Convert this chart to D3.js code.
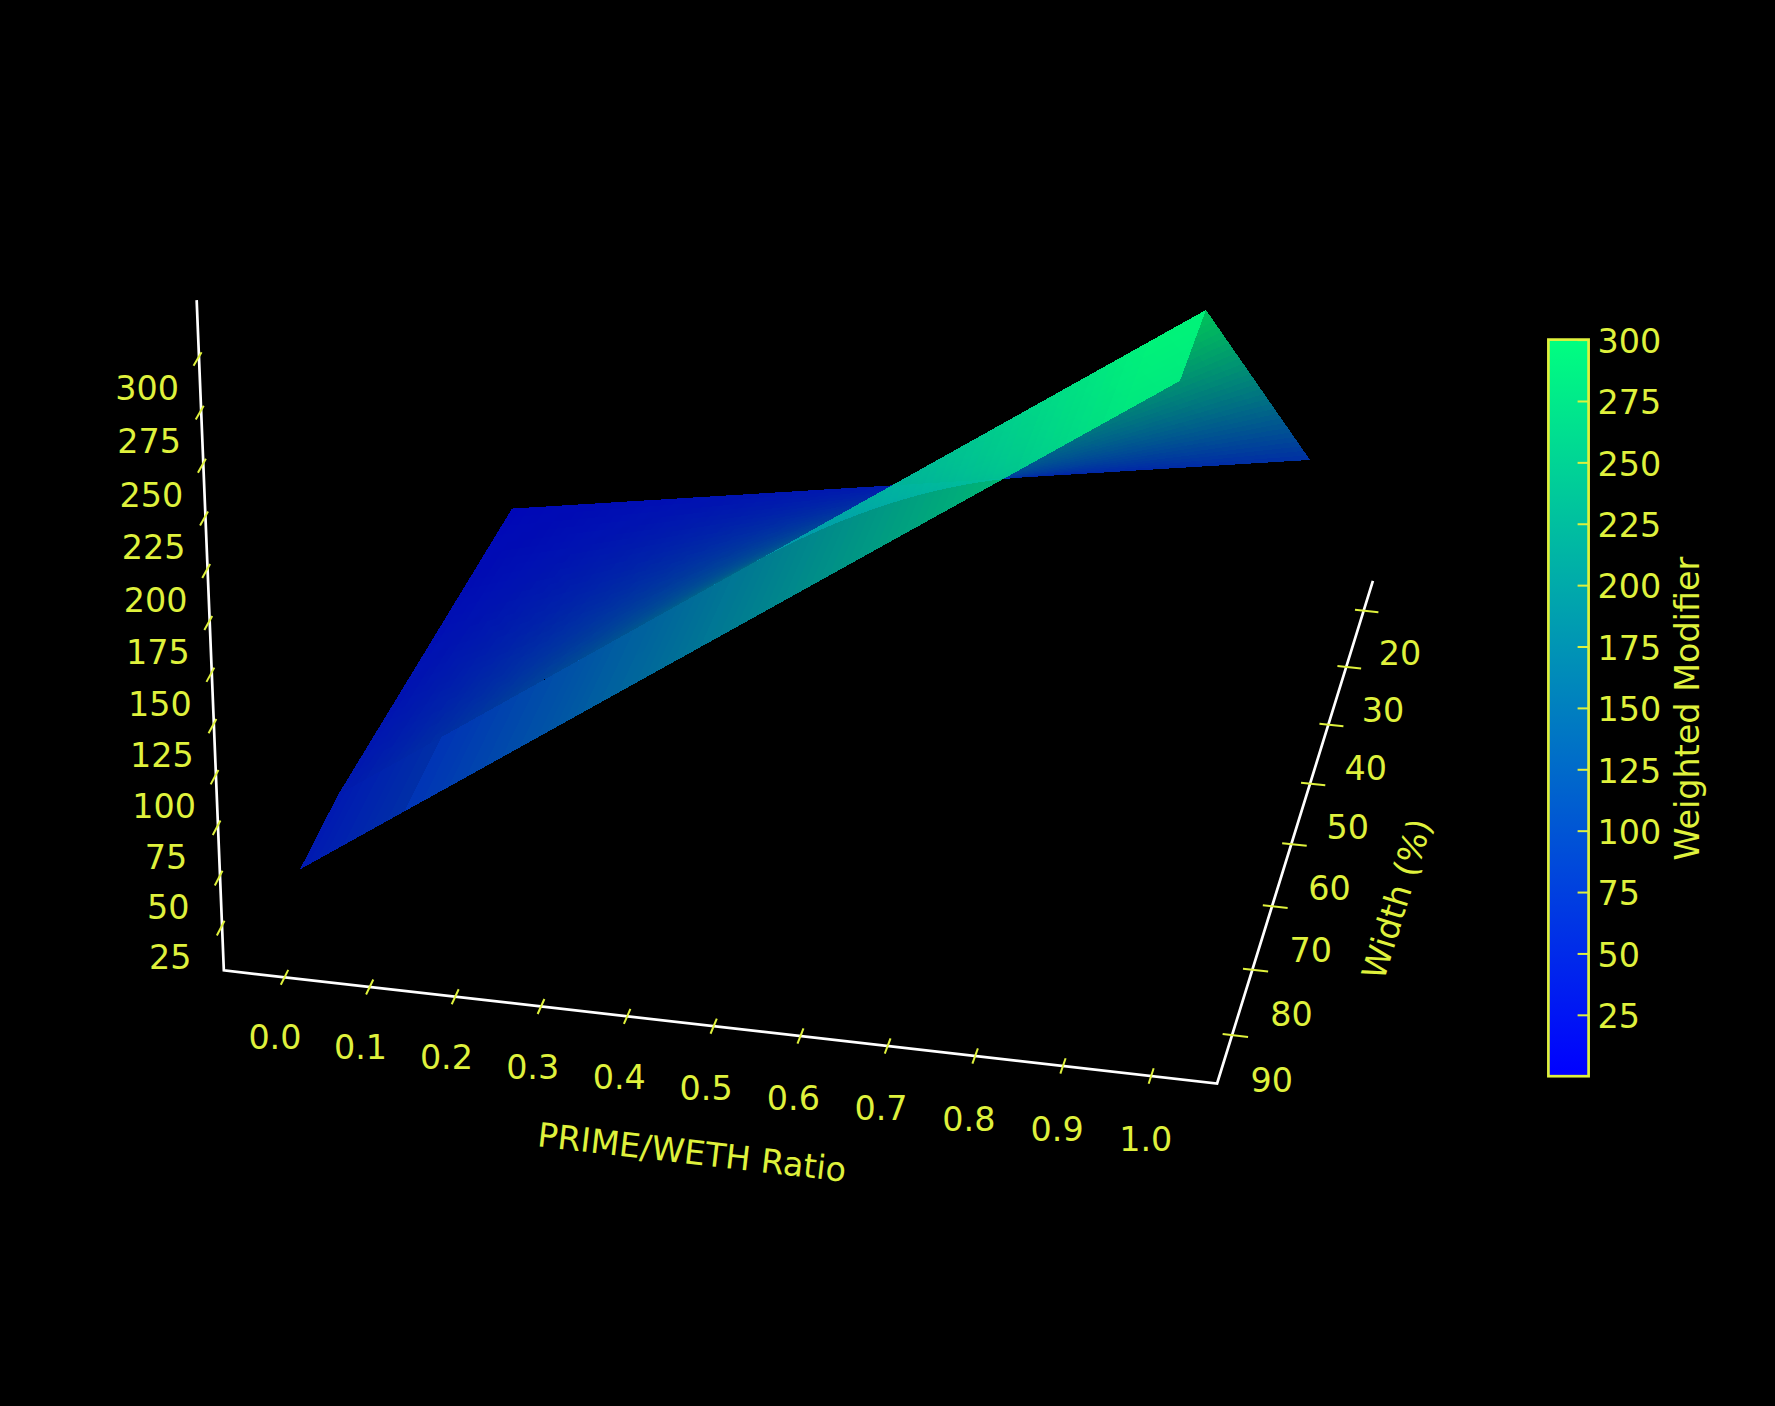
<!DOCTYPE html>
<html><head><meta charset="utf-8"><style>html,body{margin:0;background:#000}svg{display:block}text{font-family:"DejaVu Sans";font-size:33.4px;fill:#dff13c}</style></head>
<body><svg id="c" width="1775" height="1406"></svg>
<script src="https://cdn.jsdelivr.net/npm/d3@7"></script>
<script>
// ---- data ----
const ratioTicks=[0,.1,.2,.3,.4,.5,.6,.7,.8,.9,1];
const widthTicks=[20,30,40,50,60,70,80,90];
const modifierTicks=[25,50,75,100,125,150,175,200,225,250,275,300];
const gridRatio=[0,1];
const widthAtRatio0=[19.93,79.64,91.66];
const widthAtRatio1=[18.89,79.00,90.95];
const modifierAtRatio0=[11.3,40.0,40.1];
const modifierAtRatio1=[76.7,316.9,316.8];
const colorbarDomain=[0,300];
// ---- view ----
const ELEV=.4988,AZIM=-1.3631,DIST=8.398,SCALE=991.15,CX=822.21,CY=449.39;
const XLIM=[-.0732,1.0782],YLIM=[97.2545,14.6179],ZLIM=[3.8172,327.348],BOX=[1,1.0094,.7476];
const AXIS_X=[-.0715,1.0745];
const INK="#dff13c";
const ALPHA=.81,SHADE_BACK=.9,SHADE_FRONT=1,SHADE_FRONT_LEFT=.92,FRONT_LEFT_END=.125;
const sx=d3.scaleLinear().domain(XLIM).range([-BOX[0]/2,BOX[0]/2]);
const sy=d3.scaleLinear().domain(YLIM).range([-BOX[1]/2,BOX[1]/2]);
const sz=d3.scaleLinear().domain(ZLIM).range([-BOX[2]/2,BOX[2]/2]);
const n=[Math.cos(ELEV)*Math.cos(AZIM),Math.cos(ELEV)*Math.sin(AZIM),Math.sin(ELEV)];
const rl=Math.hypot(n[0],n[1]),r=[-n[1]/rl,n[0]/rl,0];
const u=[n[1]*r[2]-n[2]*r[1],n[2]*r[0]-n[0]*r[2],n[0]*r[1]-n[1]*r[0]];
const dot=(a,b)=>a[0]*b[0]+a[1]*b[1]+a[2]*b[2];
const world=(x,y,z)=>[sx(x),sy(y),sz(z)];
const depth=(x,y,z)=>dot(world(x,y,z),n);
function project(x,y,z){const P=world(x,y,z),w=1-dot(P,n)/DIST;return[CX+SCALE*dot(P,r)/w,CY-SCALE*dot(P,u)/w]}
const svg=d3.select("#c");
svg.append("rect").attr("width",1775).attr("height",1406).attr("fill","#000");
const color=d3.scaleLinear().domain(colorbarDomain).range(["#0000ff","#00ff80"]).clamp(true);
// ---- surface: bilinear patches over the grid ----
const quads=[];
const surf=(i,a,b)=>{const wy=d3.scaleLinear().domain(gridRatio).range([d3.interpolateNumber(widthAtRatio0[i],widthAtRatio0[i+1])(b),d3.interpolateNumber(widthAtRatio1[i],widthAtRatio1[i+1])(b)]);
 const wz=d3.scaleLinear().domain(gridRatio).range([d3.interpolateNumber(modifierAtRatio0[i],modifierAtRatio0[i+1])(b),d3.interpolateNumber(modifierAtRatio1[i],modifierAtRatio1[i+1])(b)]);
 return[a,wy(a),wz(a)]};
const shadeFor=(band,a)=>band===0?SHADE_BACK:(a<FRONT_LEFT_END?SHADE_FRONT_LEFT:SHADE_FRONT);
[[0,90,30],[1,96,2]].forEach(([band,nx,ny])=>{
 d3.range(nx).forEach(ix=>d3.range(ny).forEach(iy=>{
  const a0=ix/nx,a1=(ix+1)/nx,b0=iy/ny,b1=(iy+1)/ny;
  const c=[surf(band,a0,b0),surf(band,a1,b0),surf(band,a1,b1),surf(band,a0,b1)];
  const m=[d3.mean(c,d=>d[0]),d3.mean(c,d=>d[1]),d3.mean(c,d=>d[2])];
  quads.push({c,z:m[2],shade:shadeFor(band,m[0]),d:depth(...m)});
 }));
});
quads.sort((p,q)=>p.d-q.d);
svg.append("g").attr("shape-rendering","crispEdges").selectAll("polygon").data(quads).join("polygon")
 .attr("points",q=>q.c.map(p=>project(...p).map(v=>v.toFixed(2)).join(",")).join(" "))
 .attr("fill",q=>{const k=d3.rgb(color(q.z));return d3.rgb(k.r*q.shade,k.g*q.shade,k.b*q.shade).formatRgb()})
 .attr("fill-opacity",ALPHA);
// ---- axis lines ----
const line=d3.line();
const gAxes=svg.append("g");
const axisPath=[[AXIS_X[0],YLIM[0],ZLIM[1]],[AXIS_X[0],YLIM[0],ZLIM[0]],[AXIS_X[1],YLIM[0],ZLIM[0]],[AXIS_X[1],YLIM[1],ZLIM[0]]];
gAxes.append("path").attr("d",line(axisPath.map(p=>project(...p)))).attr("fill","none").attr("stroke","#fff").attr("stroke-width",2.7).attr("stroke-linejoin","miter");
const tick=(a,b,w)=>gAxes.append("line").attr("x1",a[0]).attr("y1",a[1]).attr("x2",b[0]).attr("y2",b[1]).attr("stroke",INK).attr("stroke-width",w);
const label=(p,t)=>svg.append("text").attr("x",p[0]).attr("y",p[1]).attr("text-anchor","middle").attr("dominant-baseline","central").text(t);
const oxX=d3.scaleLinear().domain([0,1]).range([-9.6,-5.4]),oxY=d3.scaleLinear().domain([0,1]).range([60,64]);
ratioTicks.forEach(v=>{const p=project(v,YLIM[0],ZLIM[0]);
 tick(project(v,YLIM[0]-1.15,ZLIM[0]),project(v,YLIM[0]+1.15,ZLIM[0]),2);
 label([p[0]+oxX(v),p[1]+oxY(v)],v.toFixed(1));});
const oyX=d3.scaleLinear().domain([20,90]).range([33.4,36.4]),oyY=d3.scaleLinear().domain([20,90]).range([42.8,44.9]);
widthTicks.forEach(v=>{const p=project(XLIM[1],v,ZLIM[0]);
 tick(project(XLIM[1]-.0145,v,ZLIM[0]),project(XLIM[1]+.0145,v,ZLIM[0]),2);
 label([p[0]+oyX(v),p[1]+oyY(v)],v);});
modifierTicks.forEach(v=>{const p=project(XLIM[0],YLIM[0],v);
 tick(project(XLIM[0],YLIM[0]-1.15,v),project(XLIM[0],YLIM[0]+1.15,v),2);
 label([p[0]-50.5,p[1]+29.3],v);});
svg.append("text").attr("text-anchor","middle").attr("dominant-baseline","central").attr("transform","translate(692,1152.5) rotate(6.6)").text("PRIME/WETH Ratio");
svg.append("text").attr("text-anchor","middle").attr("dominant-baseline","central").attr("transform","translate(1397,899) rotate(-73)").text("Width (%)");
// ---- colour bar ----
const defs=svg.append("defs");
const grad=defs.append("linearGradient").attr("id","cb").attr("x1",0).attr("x2",0).attr("y1",1).attr("y2",0);
grad.selectAll("stop").data([0,1]).join("stop").attr("offset",d=>d).attr("stop-color",d=>["#0000ff","#00ff80"][d]);
const cbY=d3.scaleLinear().domain(colorbarDomain).range([1076.2,339.6]);
const cb={x0:1548.4,x1:1588.6};
const rectAttrs=s=>s.attr("x",cb.x0).attr("y",cbY(colorbarDomain[1])).attr("width",cb.x1-cb.x0).attr("height",cbY(colorbarDomain[0])-cbY(colorbarDomain[1]));
svg.append("rect").call(rectAttrs).attr("fill","url(#cb)");
const axis=svg.append("g").attr("transform",`translate(${cb.x1},0)`).call(d3.axisRight(cbY).tickValues(modifierTicks).tickSize(-11).tickPadding(9));
axis.select(".domain").remove();
axis.selectAll("line").attr("stroke",INK).attr("stroke-width",2);
axis.selectAll("text").attr("dy",".385em").style("font-size","33.4px").style("font-family","DejaVu Sans");
svg.append("rect").call(rectAttrs).attr("fill","none").attr("stroke",INK).attr("stroke-width",2.7);
svg.append("text").attr("text-anchor","middle").attr("dominant-baseline","central").attr("transform","translate(1687,708.7) rotate(-90)").text("Weighted Modifier");
</script></body></html>
